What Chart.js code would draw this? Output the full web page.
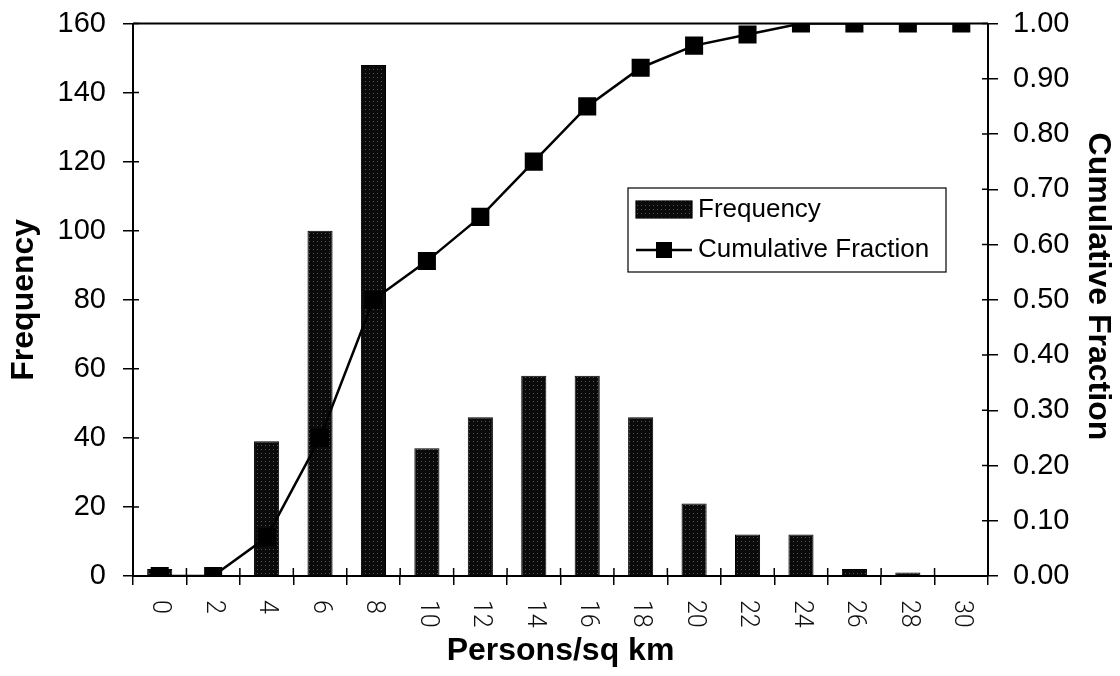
<!DOCTYPE html>
<html>
<head>
<meta charset="utf-8">
<script src="https://cdn.jsdelivr.net/npm/chart.js@4/dist/chart.umd.min.js"></script>
<style>
  html, body { margin: 0; padding: 0; background: #fff; }
  #wrap { width: 1120px; height: 676px; }
</style>
</head>
<body>
<div id="wrap"><canvas id="grafico"></canvas></div>
<script>
// dados
const categorias = ['0', '2', '4', '6', '8', '10', '12', '14', '16', '18', '20', '22', '24', '26', '28', '30'];
const frequencia = [2, 0, 39, 100, 148, 37, 46, 58, 58, 46, 21, 12, 12, 2, 1, 0];
const fracaoAcumulada = [0.00, 0.00, 0.07, 0.25, 0.50, 0.57, 0.65, 0.75, 0.85, 0.92, 0.96, 0.98, 1.00, 1.00, 1.00, 1.00];
const ticksFrequencia = [0, 20, 40, 60, 80, 100, 120, 140, 160];
const ticksFracao = [0, 0.1, 0.2, 0.3, 0.4, 0.5, 0.6, 0.7, 0.8, 0.9, 1.0];

const fonte = '"Liberation Sans", Arial, sans-serif';

function criarTrama() {
    const c = document.createElement('canvas');
    c.width = 4; c.height = 4;
    const g = c.getContext('2d');
    g.fillStyle = '#0a0a0a';
    g.fillRect(0, 0, 4, 4);
    g.fillStyle = '#555';
    g.fillRect(1, 1, 1, 1);
    return g.createPattern(c, 'repeat');
}
const trama = criarTrama();

// moldura, marcas internas, rótulos girados do eixo x e legenda
const extras = {
    id: 'extras',
    afterDraw(chart) {
        const { ctx, chartArea: a, scales: { x, y, y1 } } = chart;
        ctx.save();
        ctx.strokeStyle = '#000';
        ctx.lineWidth = 2;
        ctx.beginPath();
        ctx.moveTo(a.left, a.top);
        ctx.lineTo(a.right, a.top);
        ctx.stroke();

        ctx.lineWidth = 1.5;
        ctx.beginPath();
        y.ticks.forEach(t => {
            const p = y.getPixelForValue(t.value);
            ctx.moveTo(a.left, p); ctx.lineTo(a.left + 6, p);
        });
        y1.ticks.forEach(t => {
            const p = y1.getPixelForValue(t.value);
            ctx.moveTo(a.right - 6, p); ctx.lineTo(a.right, p);
        });
        for (let i = 0; i <= categorias.length; i++) {
            const p = x.getPixelForValue(i - 0.5);
            ctx.moveTo(p, a.bottom); ctx.lineTo(p, a.bottom - 8);
        }
        ctx.stroke();

        ctx.fillStyle = '#111';
        ctx.font = '300 25px Roboto, "DejaVu Sans", sans-serif';
        ctx.textAlign = 'left';
        ctx.textBaseline = 'middle';
        categorias.forEach((c, i) => {
            ctx.save();
            ctx.translate(x.getPixelForValue(i), a.bottom + 24);
            ctx.rotate(Math.PI / 2);
            ctx.fillText(c, 0, 0);
            ctx.restore();
        });

        // legenda
        const lx = 628, ly = 188, lw = 318, lh = 84;
        ctx.fillStyle = '#fff';
        ctx.fillRect(lx, ly, lw, lh);
        ctx.lineWidth = 1.2;
        ctx.strokeStyle = '#000';
        ctx.strokeRect(lx, ly, lw, lh);
        ctx.fillStyle = trama;
        ctx.fillRect(lx + 8, ly + 13, 56, 17);
        ctx.strokeRect(lx + 8, ly + 13, 56, 17);
        ctx.lineWidth = 2.5;
        ctx.beginPath();
        ctx.moveTo(lx + 8, ly + 62); ctx.lineTo(lx + 64, ly + 62);
        ctx.stroke();
        ctx.fillStyle = '#000';
        ctx.fillRect(lx + 28, ly + 54, 16, 16);
        ctx.font = '26px ' + fonte;
        ctx.textBaseline = 'middle';
        ctx.fillText(chart.data.datasets[1].label, lx + 70, ly + 22);
        ctx.fillText(chart.data.datasets[0].label, lx + 70, ly + 62);
        ctx.restore();
    }
};

const ctx = document.getElementById('grafico').getContext('2d');
new Chart(ctx, {
    type: 'bar',
    data: {
        labels: categorias,
        datasets: [{
            type: 'line',
            label: 'Cumulative Fraction',
            data: fracaoAcumulada,
            yAxisID: 'y1',
            borderColor: '#000',
            backgroundColor: '#000',
            borderWidth: 2.5,
            pointStyle: 'rect',
            pointRadius: 11,
            pointHoverRadius: 11,
            tension: 0,
            order: 0
        }, {
            label: 'Frequency',
            data: frequencia,
            yAxisID: 'y',
            backgroundColor: trama,
            borderColor: '#000',
            borderWidth: 1,
            barPercentage: 0.47,
            categoryPercentage: 1,
            order: 1
        }]
    },
    options: {
        responsive: true,
        maintainAspectRatio: false,
        animation: false,
        layout: { autoPadding: false, padding: { top: 0, left: 0, right: 0, bottom: 0 } },
        plugins: {
            legend: { display: false },
            tooltip: { enabled: false }
        },
        scales: {
            x: {
                offset: true,
                grid: { display: true, drawOnChartArea: false, offset: true, tickLength: 9, color: '#000', lineWidth: 1.5 },
                border: { display: true, color: '#000', width: 2 },
                ticks: { display: false },
                title: { display: true, text: 'Persons/sq km', color: '#000', font: { family: fonte, size: 32, weight: 'bold' }, padding: { top: 0, bottom: 6 } },
                afterFit: s => { s.height = 100; }
            },
            y: {
                position: 'left',
                min: 0,
                max: 160,
                afterBuildTicks: s => { s.ticks = ticksFrequencia.map(v => ({ value: v })); },
                grid: { display: true, drawOnChartArea: false, tickLength: 10, color: '#000', lineWidth: 1.5 },
                border: { display: true, color: '#000', width: 2 },
                ticks: { color: '#000', padding: 17, font: { family: fonte, size: 29, lineHeight: 0.45 } },
                title: { display: true, text: 'Frequency', color: '#000', font: { family: fonte, size: 32, weight: 'bold' }, padding: { top: 5, bottom: 0 } },
                afterFit: s => { s.width = 133; }
            },
            y1: {
                position: 'right',
                min: 0,
                max: 1,
                afterBuildTicks: s => { s.ticks = ticksFracao.map(v => ({ value: v })); },
                grid: { display: true, drawOnChartArea: false, tickLength: 10, color: '#000', lineWidth: 1.5 },
                border: { display: true, color: '#000', width: 2 },
                ticks: { color: '#000', padding: 15, font: { family: fonte, size: 29, lineHeight: 0.45 }, callback: v => v.toFixed(2) },
                title: { display: true, text: 'Cumulative Fraction   ', color: '#000', font: { family: fonte, size: 32, weight: 'bold' }, padding: { top: 3, bottom: 0 } },
                afterFit: s => { s.width = 132; }
            }
        }
    },
    plugins: [extras]
});
</script>
</body>
</html>
